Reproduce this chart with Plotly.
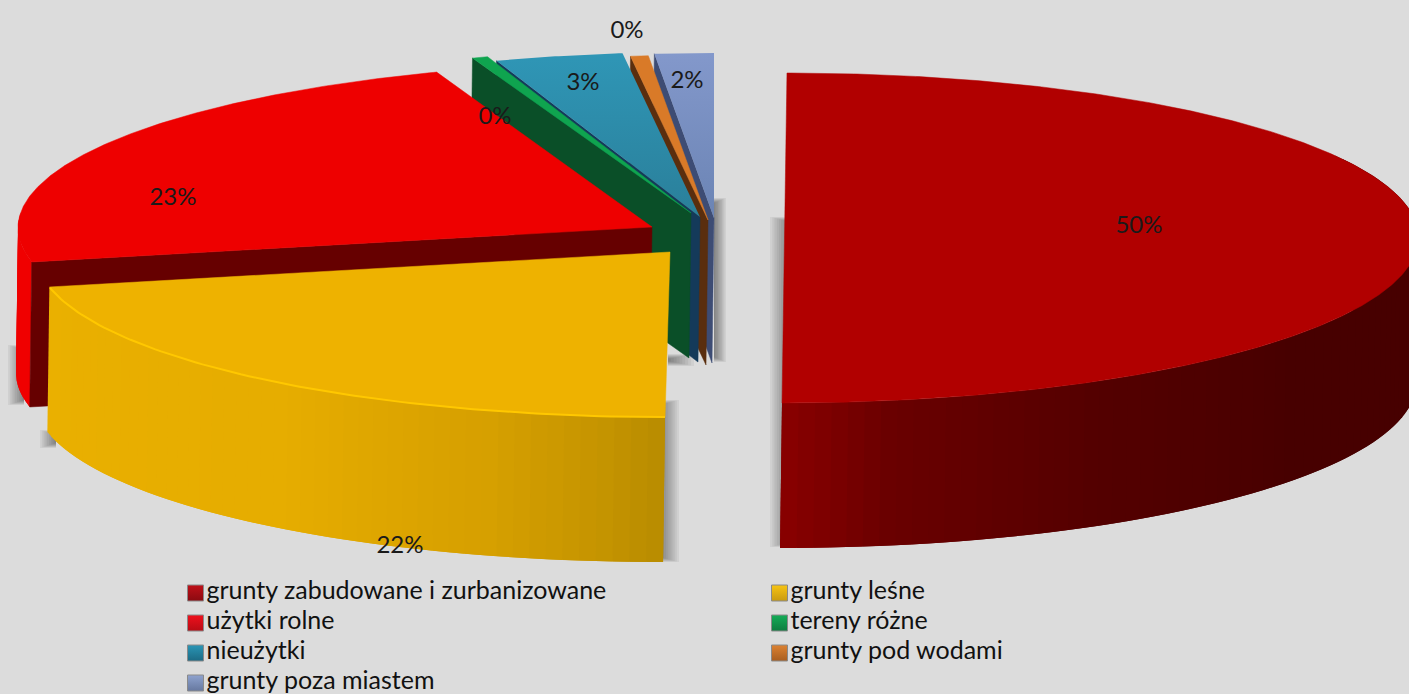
import numpy as np
import plotly.graph_objects as go

# ---- data ----
categories = ["grunty zabudowane i zurbanizowane", "grunty leśne", "użytki rolne", "tereny różne",
              "nieużytki", "grunty pod wodami", "grunty poza miastem"]
shares = [50.0, 21.6, 22.8, 0.4, 3.25, 0.45, 1.5]

# ---- style ----
top_colors = ["#b10000", "#eeb200", "#ee0000", "#0fa44f", "#2b8aaa", "#d97a28", "#7c93c3"]
cut_colors = ["#5a0000", "#b98c00", "#660000", "#0a4f28", "#143a5a", "#5a2e0e", "#3d4c74"]
legend_colors = ["#c01018", "#f7c413", "#f0101c", "#14ad58", "#2a96b6", "#dc8232", "#8fa3cf"]
legend_dark = ["#8a0a10", "#c99a10", "#b80c14", "#0e7c40", "#1c6a84", "#a85e20", "#66789f"]
centres = [(784.5, 238), (670, 252), (652, 227), (691, 213), (700, 217), (708, 220), (714, 218)]
shears = [-0.015, -0.03, -0.02, 0, 0, 0, 0]
label_pos = [(1139, 227), (400, 547), (173, 199), (495, 118), (583, 84), (627, 32), (687, 82)]
legend_pos = [(195.5, 593), (779.5, 593), (195.5, 623), (779.5, 623), (195.5, 653), (779.5, 653), (195.5, 683)]
RX, RY, DEPTH, DROP_X = 634, 165, 145, -2
BG = "#dcdcdc"
FONT = "Lato"
side_stops = {
    0: [(60, "#470000"), (125, "#470000"), (150, "#540000"), (170, "#6a0000"), (180, "#8a0000")],
    1: [(180, "#b98c00"), (186, "#c69500"), (196, "#d6a000"), (216, "#e6ad00"), (262, "#ebb100")],
    2: [(255, "#f00000"), (275, "#f00000")],
}
shadows = [(714, 726, 198, 362, 1), (770, 790, 217, 547, -1), (660, 679, 400, 562, 1),
           (8, 24, 345, 405, -1), (40, 56, 430, 448, -1), (668, 694, 354, 366, 1)]


def pt(i, theta):
    cx, cy = centres[i]
    t = np.radians(theta)
    y = cy - RY * np.cos(t)
    return cx + RX * np.sin(t) + shears[i] * (y - cy), y


def mix(stops, th):
    ths = [s[0] for s in stops]
    chans = []
    for k in (1, 3, 5):
        vals = [int(s[1][k:k + 2], 16) for s in stops]
        chans.append(int(np.interp(th, ths, vals)))
    return "rgb(%d,%d,%d)" % tuple(chans)


total = sum(shares)
bounds = np.concatenate([[0], np.cumsum(shares)]) / total * 360

fig = go.Figure()


def poly(xs, ys, color, lw=0.5, **kw):
    fig.add_trace(go.Scatter(x=list(xs), y=list(ys), mode="lines", fill="toself", fillcolor=color,
                             line=dict(color=color, width=lw), showlegend=False, hoverinfo="skip", **kw))


def cut_face(i, theta):
    cx, cy = centres[i]
    ox, oy = pt(i, theta)
    poly([ox, cx, cx + DROP_X, ox + DROP_X, ox], [oy, cy, cy + DEPTH, oy + DEPTH, oy], cut_colors[i])


def outer_side(i, a, b):
    # each band overlaps the next, so no seams and no over-painted edges
    n = max(2, int(abs(b - a) / 1.5))
    step = (b - a) / n
    edges = np.linspace(a, b, n + 1)
    for t0 in edges[:-1]:
        t1 = t0 + 2 * step
        if (b - t1) * step < 0:
            t1 = b
        sub = np.linspace(t0, t1, 12)
        tx, ty = pt(i, sub)
        xs = np.concatenate([tx, tx[::-1] + DROP_X])
        ys = np.concatenate([ty, ty[::-1] + DEPTH])
        fig.add_trace(go.Scatter(x=xs, y=ys, mode="lines", fill="toself",
                                 fillcolor=mix(side_stops[i], t0 + step / 2), line=dict(width=0),
                                 showlegend=False, hoverinfo="skip"))


def top_face(i, gradient=None):
    a, b = bounds[i], bounds[i + 1]
    th = np.linspace(a, b, max(8, int((b - a) * 3)))
    ax, ay = pt(i, th)
    cx, cy = centres[i]
    xs = np.concatenate([[cx], ax, [cx]])
    ys = np.concatenate([[cy], ay, [cy]])
    if gradient:
        fig.add_trace(go.Scatter(x=xs, y=ys, mode="lines", fill="toself", line=dict(width=0),
                                 fillgradient=dict(type="vertical", colorscale=[[0, gradient[0]], [1, gradient[1]]]),
                                 showlegend=False, hoverinfo="skip"))
    else:
        poly(xs, ys, top_colors[i])


# soft shadows, layered
shapes = []
LAYERS = 9
for x0, x1, y0, y1, side in shadows:
    for k in range(1, LAYERS + 1):
        f = k / LAYERS
        w = (x1 - x0) * f
        xa, xb = (x1 - w, x1) if side < 0 else (x0, x0 + w)
        inset = (1 - f) * 5
        shapes.append(dict(type="rect", x0=xa, x1=xb, y0=y0 + inset, y1=y1 - inset, layer="below",
                           fillcolor="rgba(0,0,0,0.05)", line=dict(width=0)))

# big slice
outer_side(0, 60, bounds[1])
top_face(0)
# back small slices, right to left
cut_face(6, bounds[6])
top_face(6, ("#6b84b4", "#8398cb"))
cut_face(5, bounds[5])
top_face(5)
cut_face(4, bounds[4])
top_face(4, ("#2a7f9a", "#2f96b6"))
cut_face(3, bounds[3])
top_face(3)
# red
outer_side(2, 275, bounds[2])
cut_face(2, bounds[2])
top_face(2)
# yellow
outer_side(1, bounds[2], bounds[1])
top_face(1)
hl = np.linspace(bounds[1], bounds[2] - 0.3, 80)
hx, hy = pt(1, hl)
fig.add_trace(go.Scatter(x=hx, y=hy, mode="lines", line=dict(color="#ffc800", width=2),
                         showlegend=False, hoverinfo="skip"))

# data labels
labels = [f"{round(v)}%" for v in shares]
fig.add_trace(go.Scatter(x=[p[0] for p in label_pos], y=[p[1] for p in label_pos], mode="text", text=labels,
                         textposition="middle center", textfont=dict(family=FONT, size=24, color="#1a1a1a"),
                         showlegend=False, hoverinfo="skip", cliponaxis=False))

# legend rows: swatch and name per category
for name, col, dark, (lx, ly) in zip(categories, legend_colors, legend_dark, legend_pos):
    fig.add_trace(go.Scatter(x=[lx], y=[ly], mode="markers+text", name=name, text=[name],
                             textposition="middle right", showlegend=False, cliponaxis=False,
                             textfont=dict(family=FONT, size=25, color="#111111"),
                             marker=dict(symbol="square", size=16, color=col,
                                         gradient=dict(type="vertical", color=dark),
                                         line=dict(color="#8a8a8a", width=1))))

fig.update_layout(
    width=1409, height=694, margin=dict(l=0, r=0, t=0, b=0),
    paper_bgcolor=BG, plot_bgcolor=BG, shapes=shapes, showlegend=False,
    xaxis=dict(range=[0, 1409], visible=False, fixedrange=True),
    yaxis=dict(range=[694, 0], visible=False, fixedrange=True),
)
fig.write_html("out.html", config=dict(displayModeBar=False),
               post_script="document.body.style.margin='0';document.body.style.overflow='hidden';")
